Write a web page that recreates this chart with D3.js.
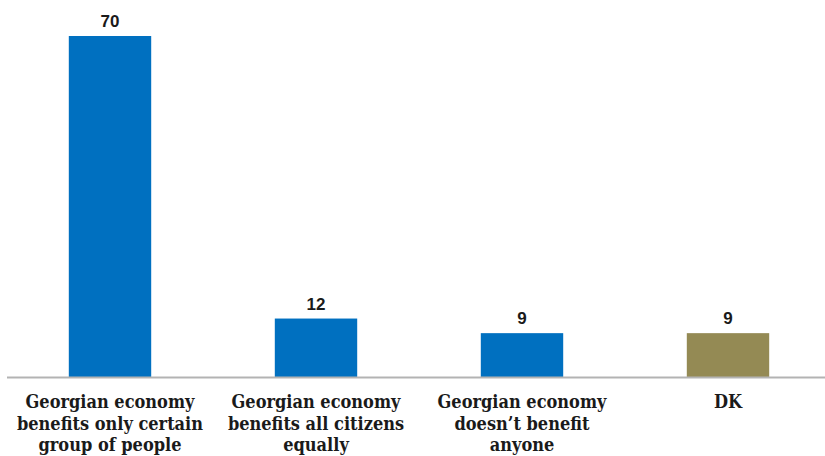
<!DOCTYPE html>
<html><head><meta charset="utf-8">
<script src="https://cdn.jsdelivr.net/npm/d3@7"></script>
<style>body{margin:0;background:#fff;} svg{display:block;}</style>
</head><body>
<svg id="chart" width="825" height="456"></svg>
<script>
const categories = [
  ["Georgian economy", "benefits only certain", "group of people"],
  ["Georgian economy", "benefits all citizens", "equally"],
  ["Georgian economy", "doesn\u2019t benefit", "anyone"],
  ["DK"]
];
const values = [70, 12, 9, 9];
const barColors = ["#0070C0", "#0070C0", "#0070C0", "#948A54"];

const svg = d3.select("#chart");
const baseline = 377;
const x = d3.scaleBand().domain(d3.range(values.length)).range([7, 831]).paddingInner(0.6).paddingOuter(0.3);
const y = d3.scaleLinear().domain([0, 70]).range([baseline, 36]);

svg.selectAll("rect.bar").data(values).join("rect")
  .attr("class", "bar")
  .attr("x", (d, i) => x(i))
  .attr("width", x.bandwidth())
  .attr("y", d => y(d))
  .attr("height", d => baseline - y(d))
  .attr("fill", (d, i) => barColors[i]);

svg.append("line").attr("x1", 7).attr("x2", 825).attr("y1", baseline + 0.5).attr("y2", baseline + 0.5)
  .attr("stroke", "#b3b3b3").attr("stroke-width", 2);

svg.selectAll("text.val").data(values).join("text")
  .attr("class", "val")
  .attr("x", (d, i) => x(i) + x.bandwidth() / 2)
  .attr("y", d => y(d) - 9)
  .attr("text-anchor", "middle")
  .attr("font-family", "Liberation Sans, Arial, sans-serif")
  .attr("font-weight", "bold").attr("font-size", 17).attr("fill", "#1a1a1a")
  .text(d => d);

const lab = svg.selectAll("text.cat").data(categories).join("text")
  .attr("class", "cat")
  .attr("x", (d, i) => x(i) + x.bandwidth() / 2)
  .attr("y", 408)
  .attr("text-anchor", "middle")
  .attr("font-family", "DejaVu Serif Condensed, Liberation Serif, serif")
  .attr("font-weight", "bold").attr("font-size", 18).attr("fill", "#1a1a1a");
lab.selectAll("tspan").data(d => d).join("tspan")
  .attr("x", function () { return d3.select(this.parentNode).attr("x"); })
  .attr("dy", (d, j) => j === 0 ? 0 : 21.5)
  .text(d => d);
</script>
</body></html>
